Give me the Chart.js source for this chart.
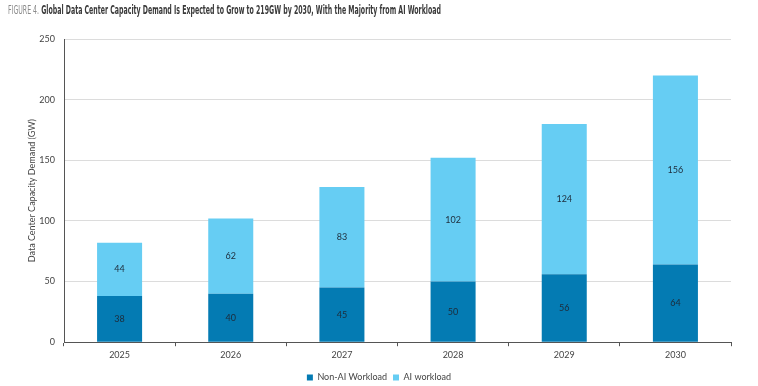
<!DOCTYPE html>
<html lang="en">
<head>
    <meta charset="UTF-8">
    <title>Global Data Center Capacity Demand</title>
    <style>
        body { margin: 0; background: #fff; }
        .wrap { position: relative; width: 758px; height: 386px; }
        .title {
            position: absolute; left: 8px; top: 3px;
            font-family: "Liberation Sans Narrow", "DejaVu Sans Condensed", sans-serif;
            font-size: 12px; font-weight: bold; color: #3a3a3a; white-space: nowrap;
            transform: scaleX(0.578); transform-origin: left top;
        }
        .title span { color: #8a8a8a; font-weight: normal; }
        canvas { position: absolute; left: 0; top: 0; }
    </style>
</head>
<body>
    <div class="wrap">
        <canvas id="capacityChart" width="758" height="386"></canvas>
        <div class="title"><span>FIGURE 4.</span> Global Data Center Capacity Demand Is Expected to Grow to 219GW by 2030, With the Majority from AI Workload</div>
    </div>

    <script src="https://cdn.jsdelivr.net/npm/chart.js"></script>
    <script>
        // values (GW)
        const years = ["2025", "2026", "2027", "2028", "2029", "2030"];
        const nonAiWorkload = [38, 40, 45, 50, 56, 64];
        const aiWorkload = [44, 62, 83, 102, 124, 156];
        const yTicks = [0, 50, 100, 150, 200, 250];

        const axisFont = { family: "Lato, 'Open Sans', sans-serif", size: 9 };

        // writes each segment's value in the middle of its bar
        const barLabels = {
            id: 'barLabels',
            afterDatasetsDraw(chart) {
                const ctx = chart.ctx;
                ctx.save();
                ctx.font = "9px Lato, 'Open Sans', sans-serif";
                ctx.fillStyle = "#1d2b3a";
                ctx.textAlign = "center";
                ctx.textBaseline = "middle";
                chart.data.datasets.forEach((ds, i) => {
                    chart.getDatasetMeta(i).data.forEach((bar, j) => {
                        const mid = (bar.y + bar.base) / 2;
                        ctx.fillText(ds.data[j], bar.x, mid);
                    });
                });
                ctx.restore();
            }
        };

        new Chart(document.getElementById('capacityChart'), {
            type: 'bar',
            data: {
                labels: years,
                datasets: [
                    { label: "Non-AI Workload", data: nonAiWorkload, backgroundColor: "#047bb3", categoryPercentage: 1, barPercentage: 0.405 },
                    { label: "AI workload", data: aiWorkload, backgroundColor: "#66cdf3", categoryPercentage: 1, barPercentage: 0.405 }
                ]
            },
            options: {
                responsive: false,
                animation: false,
                layout: { padding: { top: 39, right: 27, left: 27, bottom: -6 } },
                plugins: {
                    tooltip: { enabled: false },
                    legend: {
                        position: 'bottom',
                        labels: {
                            font: axisFont, color: "#444",
                            boxWidth: 6, boxHeight: 6, padding: 6
                        }
                    }
                },
                scales: {
                    x: {
                        stacked: true,
                        grid: { drawOnChartArea: false, color: "#555", tickLength: 4, offset: true },
                        border: { color: "#555", width: 1 },
                        ticks: { font: axisFont, color: "#444", padding: 3 },
                        afterFit: (scale) => { scale.height += 4; }
                    },
                    y: {
                        stacked: true,
                        min: 0, max: 250,
                        afterBuildTicks: (scale) => { scale.ticks = yTicks.map(v => ({ value: v })); },
                        afterFit: (scale) => { scale.width = 37; },
                        grid: { color: "#dcdcdc", drawTicks: false },
                        border: { color: "#555", width: 1 },
                        ticks: { font: axisFont, color: "#444", padding: 9 },
                        title: {
                            display: true, text: "Data Center Capacity Demand (GW)",
                            font: axisFont, color: "#444", padding: 0
                        }
                    }
                }
            },
            plugins: [barLabels]
        });
    </script>
</body>
</html>
